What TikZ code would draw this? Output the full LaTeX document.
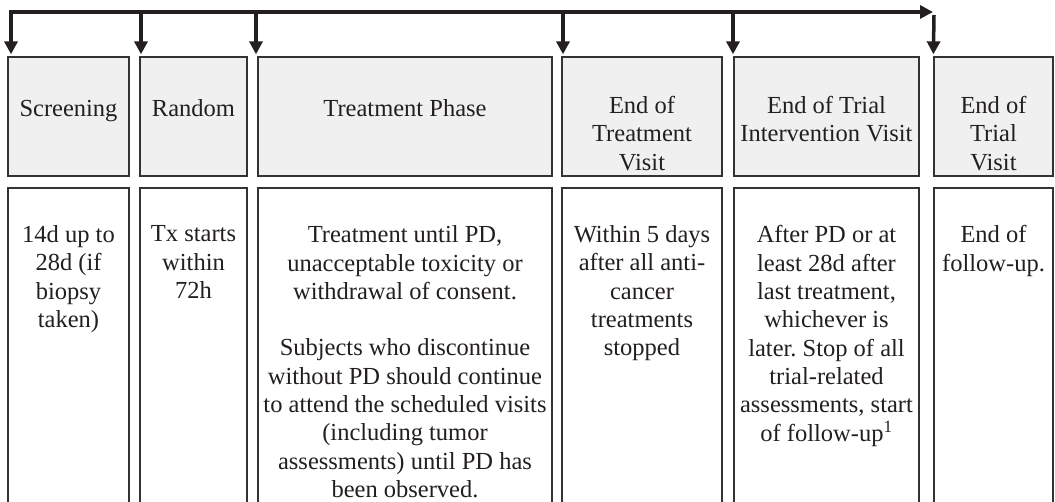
\documentclass[tikz,border=0pt]{standalone}
\usepackage{fontspec}
\setmainfont{Liberation Serif}
\usetikzlibrary{arrows.meta}
\definecolor{headgray}{HTML}{F0F0F0}
\definecolor{ink}{HTML}{231F20}
\definecolor{edge}{HTML}{333333}
\frenchspacing

\begin{document}
\begin{tikzpicture}[x=1pt, y=-1pt,
  headbox/.style={draw=edge, line width=1.3pt, fill=headgray, inner sep=0pt},
  bodybox/.style={draw=edge, line width=1.3pt, fill=white, inner sep=0pt},
  lbl/.style={text=ink, align=center, inner sep=0pt, anchor=north,
    font=\fontsize{24.5}{28.3}\selectfont, execute at begin node=\rule{0pt}{20pt}},
  tip/.style={-{Triangle[width=13pt,length=13pt]}},
  drop/.style={tip, line width=3.5pt, draw=ink, shorten >=2pt}]
\useasboundingbox (0,0) rectangle (1055,502);
\clip (0,0) rectangle (1055,502);
\foreach \n/\l/\r in {scr/8/129, rnd/140/247, trt/258/552,
                      eot/562/722, eoti/734/919, eotv/934/1053}
    {
    \node[headbox, minimum width={\r pt-\l pt}, minimum height=119pt]
        (\n) at ({(\l+\r)/2}, 116.5) {};
    \node[bodybox, minimum width={\r pt-\l pt}, minimum height=340pt]
        (\n body) at ({(\l+\r)/2}, 358) {};
    }
\node[lbl] (scrhd) at (scr.north |- 0,96) {Screening};
\node[lbl] (rndhd) at (rnd.north |- 0,96) {Random};
\node[lbl] (trthd) at (trt.north |- 0,96) {Treatment Phase};
\node[lbl] (eothd) at (eot.north |- 0,96) {End of\\Treatment\\Visit};
\node[lbl] (eotihd) at (eoti.north |- 0,96) {End of Trial\\Intervention Visit};
\node[lbl] (eotvhd) at (eotv.north |- 0,96) {End of\\Trial\\Visit};
\node[lbl] (scrtx) at (scr.north |- 0,225.5) {14d up to\\28d (if\\biopsy\\taken)};
\node[lbl] (rndtx) at (rnd.north |- 0,225.5) {Tx starts\\within\\72h};
\node[lbl] (trttx) at (trt.north |- 0,225.5) {Treatment until PD,\\unacceptable toxicity or\\withdrawal of consent.\\[28.3pt]Subjects who discontinue\\without PD should continue\\to attend the scheduled visits\\(including tumor\\assessments) until PD has\\been observed.};
\node[lbl] (eottx) at (eot.north |- 0,225.5) {Within 5 days\\after all anti-\\cancer\\treatments\\stopped};
\node[lbl] (eotitx) at (eoti.north |- 0,225.5) {After PD or at\\least 28d after\\last treatment,\\whichever is\\later. Stop of all\\trial-related\\assessments, start\\of follow-up\textsuperscript{1}};
\node[lbl] (eotvtx) at (eotv.north |- 0,225.5) {End of\\follow-up.};
\coordinate (corner) at (11,12);
\coordinate (stop) at (933,12);
\draw[drop, {Triangle[width=13pt,length=13pt]}-{Triangle[width=13pt,length=13pt]},
    shorten <=2pt, shorten >=0pt] (scr.north west -| corner) |- (stop);
\foreach \n/\x in {rnd/141, trt/256, eot/563, eoti/733}
    \draw[drop] (\x,12) -- (\n.north west -| \x,0);
\draw[drop] (934,15) -- (eotv.north west);
\end{tikzpicture}
\end{document}
